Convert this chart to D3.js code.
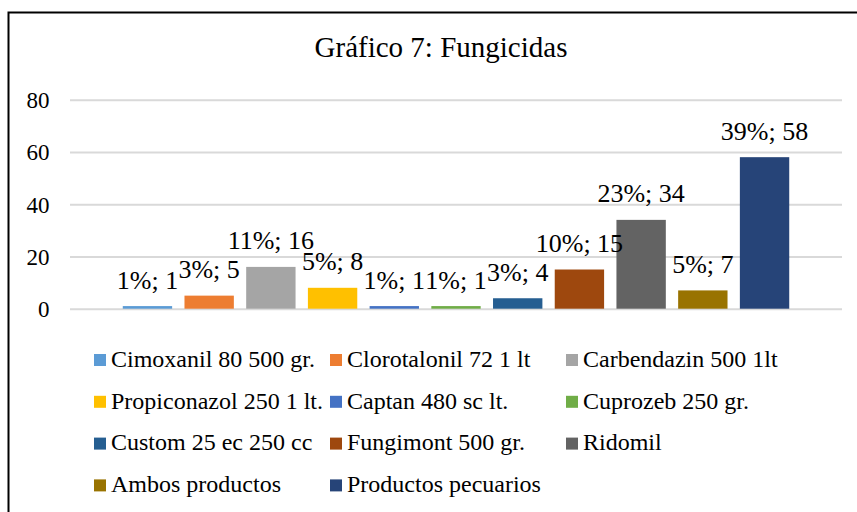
<!DOCTYPE html>
<html>
<head>
<meta charset="utf-8">
<script src="https://cdn.jsdelivr.net/npm/d3@7"></script>
<style>
  body { margin: 0; background: #fff; }
  svg text { font-family: "Liberation Serif", "Times New Roman", serif; fill: #000; }
  .grid line { stroke: #d9d9d9; stroke-width: 2; }
  .grid path { display: none; }
  .yaxis path, .yaxis line { display: none; }
  .yaxis text { font-size: 23px; }
</style>
</head>
<body>
<svg></svg>
<script>
const w = 857;
const h = 512;

// Data
const productos = [
  "Cimoxanil 80 500 gr.", "Clorotalonil 72 1 lt", "Carbendazin 500 1lt",
  "Propiconazol 250 1 lt.", "Captan 480 sc lt.", "Cuprozeb 250 gr.",
  "Custom 25 ec 250 cc", "Fungimont 500 gr.", "Ridomil",
  "Ambos productos", "Productos pecuarios"
];
const cantidades = [1, 5, 16, 8, 1, 1, 4, 15, 34, 7, 58];
const porcentajes = ["1%", "3%", "11%", "5%", "1%", "1%", "3%", "10%", "23%", "5%", "39%"];
const colores = [
  "#5b9bd5", "#ed7d31", "#a5a5a5", "#ffc000", "#4472c4", "#70ad47",
  "#255e91", "#9e480e", "#636363", "#997300", "#264478"
];
const yTicks = [0, 20, 40, 60, 80];

const svg = d3.select("svg")
    .attr("width", w)
    .attr("height", h);

// chart frame (only top and left edges fall inside the picture)
svg.append("rect")
    .attr("x", 8.5)
    .attr("y", 12.5)
    .attr("width", 900)
    .attr("height", 600)
    .attr("fill", "none")
    .attr("stroke", "#000")
    .attr("stroke-width", 2);

svg.append("text")
    .attr("x", 441)
    .attr("y", 57)
    .attr("text-anchor", "middle")
    .attr("font-size", 29)
    .text("Gráfico 7: Fungicidas");

const plot = { left: 70, right: 842, top: 99.7, bottom: 308.7 };

const y = d3.scaleLinear()
    .domain([0, 80])
    .range([plot.bottom, plot.top]);

const x = d3.scaleBand()
    .domain(productos)
    .range([116.6, 795.4])
    .paddingInner(0.2)
    .paddingOuter(0.1);

svg.append("g")
    .attr("class", "grid")
    .attr("transform", `translate(${plot.left},0)`)
    .call(d3.axisLeft(y).tickValues(yTicks).tickSize(-(plot.right - plot.left)).tickFormat(""));

svg.append("g")
    .attr("class", "yaxis")
    .attr("transform", `translate(49.5,0)`)
    .call(d3.axisLeft(y).tickValues(yTicks).tickSize(0).tickPadding(0))
    .selectAll("text")
    .attr("dy", "0.34em");

const datos = productos.map((p, i) => ({ p, v: cantidades[i], pct: porcentajes[i], c: colores[i] }));

svg.selectAll(".bar")
    .data(datos)
    .enter()
    .append("rect")
    .attr("class", "bar")
    .attr("x", d => x(d.p))
    .attr("width", x.bandwidth())
    .attr("y", d => y(d.v))
    .attr("height", d => y(0) - y(d.v))
    .attr("fill", d => d.c);

svg.selectAll(".bar-label")
    .data(datos)
    .enter()
    .append("text")
    .attr("class", "bar-label")
    .attr("x", d => x(d.p) + x.bandwidth() / 2)
    .attr("y", d => y(d.v) - 17.5)
    .attr("text-anchor", "middle")
    .attr("font-size", 26)
    .text(d => `${d.pct}; ${d.v}`);

// Legend
const colX = [94, 330, 566];
const rowY = [360, 401.8, 443.6, 485.4];

const legend = svg.selectAll(".legend")
    .data(datos)
    .enter()
    .append("g")
    .attr("class", "legend")
    .attr("transform", (d, i) => `translate(${colX[i % 3]},${rowY[Math.floor(i / 3)]})`);

legend.append("rect")
    .attr("x", 0)
    .attr("y", -6)
    .attr("width", 12)
    .attr("height", 12)
    .attr("fill", d => d.c);

legend.append("text")
    .attr("x", 17)
    .attr("y", 6.7)
    .attr("font-size", 24)
    .text(d => d.p);
</script>
</body>
</html>
